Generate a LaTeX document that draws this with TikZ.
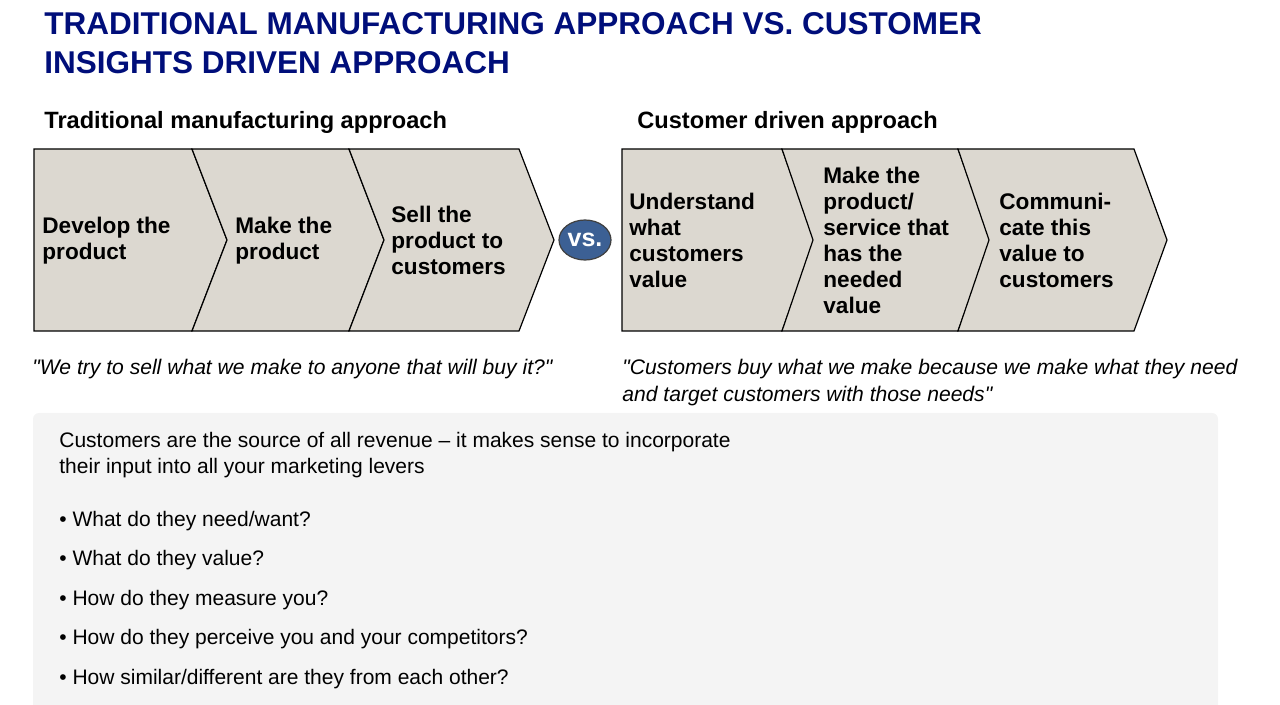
\documentclass[tikz,border=0pt]{standalone}
\usepackage{fontspec}
\setmainfont{Liberation Sans}
\usetikzlibrary{positioning, calc, shapes.geometric}

\definecolor{titleblue}{RGB}{0,14,122}
\definecolor{chevfill}{RGB}{220,216,208}
\definecolor{vsblue}{RGB}{60,96,148}
\definecolor{boxgrey}{RGB}{244,244,244}
\newcommand{\dq}{\XeTeXglyph\XeTeXcharglyph"22\relax}

\tikzset{
  chev/.style={draw=black, fill=chevfill, line width=0.6pt, line join=miter},
  chevtext/.style={anchor=west, align=left, inner sep=0pt,
    font=\bfseries\fontsize{11.3}{13}\selectfont},
  heading/.style={anchor=west, inner sep=0pt, font=\bfseries\fontsize{11.8}{14}\selectfont},
  saying/.style={anchor=north west, align=left, inner sep=0pt,
    font=\itshape\fontsize{10.55}{13.5}\selectfont},
  bodytext/.style={anchor=north west, align=left, inner sep=0pt,
    font=\fontsize{10.5}{13}\selectfont},
}

\begin{document}
\begin{tikzpicture}[x=0.5pt, y=-0.5pt]
    \useasboundingbox (0,0) rectangle (1280,705);
    % title
    \node[anchor=north west, align=left, inner sep=0pt, text=titleblue,
      font=\bfseries\fontsize{15.75}{19.5}\selectfont] (title) at (44,12)
      {TRADITIONAL MANUFACTURING APPROACH VS. CUSTOMER\\INSIGHTS DRIVEN APPROACH};
    % (a) traditional manufacturing approach
    \node[heading] (headtrad) at (44,122) {Traditional manufacturing approach};
    \foreach \xa/\xb/\n in {34/192/0, 192/349/1, 349/519/1} {
        \draw[chev] (\xa,149) -- (\xb,149) -- (\xb+35,240) -- (\xb,331)
          -- (\xa,331) -- (\xa+\n*35,240) -- cycle;
      }
    \node[chevtext] (trad1) at (42,241) {Develop the\\product};
    \node[chevtext] (trad2) at (235,241) {Make the\\product};
    \node[chevtext] (trad3) at (391,240) {Sell the\\product to\\customers};
    \node[saying, anchor=west] (saytrad) at (32,369)
      {\dq We try to sell what we make to anyone that will buy it?\dq};
    % vs.
    \node[ellipse, draw=black!75, fill=vsblue, line width=0.6pt, inner sep=0pt,
      minimum width=26pt, minimum height=20pt, text=white,
      font=\bfseries\fontsize{12.5}{14}\selectfont] (vs) at (585,240) {vs.};
    % (b) customer driven approach
    \node[heading] (headcust) at (637,122) {Customer driven approach};
    \foreach \xa/\xb/\n in {622/782/0, 782/958/1, 958/1134/1} {
        \draw[chev] (\xa,149) -- (\xb,149) -- (\xb+33,240) -- (\xb,331)
          -- (\xa,331) -- (\xa+\n*31,240) -- cycle;
      }
    \node[chevtext] (cust1) at (629,240) {Understand\\what\\customers\\value};
    \node[chevtext] (cust2) at (823,240) {Make the\\product/\\service that\\has the\\needed\\value};
    \node[chevtext] (cust3) at (999,240) {Communi-\\cate this\\value to\\customers};
    \node[saying] (saycust) at (622,359)
      {\dq Customers buy what we make because we make what they need\\and target customers with those needs\dq};
    % grey box with questions
    \fill[boxgrey, rounded corners=3pt] (33,413) rectangle (1218,720);
    \node[bodytext] (intro) at (59,432)
      {Customers are the source of all revenue -- it makes sense to incorporate\\their input into all your marketing levers};
    \foreach \q [count=\i] in {What do they need/want?, What do they value?,
        How do they measure you?, How do they perceive you and your competitors?,
        How similar/different are they from each other?} {
        \node[bodytext, anchor=west] (q\i) at (59,521+39.5*\i-39.5) {• \q};
      }
\end{tikzpicture}
\end{document}
